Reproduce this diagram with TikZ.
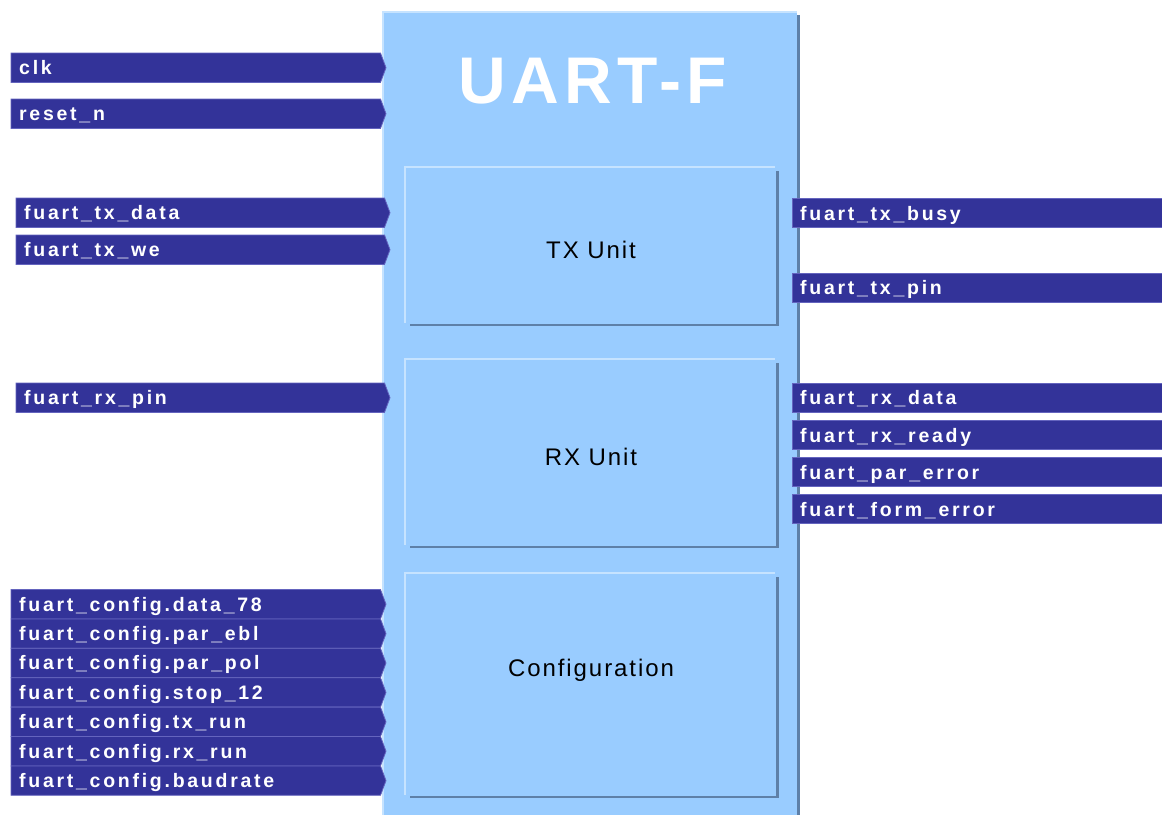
\documentclass[tikz,border=0pt]{standalone}
\usepackage{fontspec}
\usepackage{tikz}
\newfontfamily\sigfont{Liberation Sans}[LetterSpace=14]
\newfontfamily\titlefont{Liberation Sans}[LetterSpace=8]
\newfontfamily\unitfont{Liberation Sans}[LetterSpace=8]
\definecolor{sigblue}{HTML}{333399}
\definecolor{sigedge}{HTML}{6464BE}
\definecolor{boxblue}{HTML}{99CCFF}
\definecolor{boxlight}{HTML}{C6E3FF}
\definecolor{boxdark}{HTML}{5E80A8}
\tikzset{
  sigbar/.style={fill=sigblue, draw=sigedge, line width=0.8pt},
  sigtext/.style={anchor=base west, inner sep=0pt, text=white,
    font=\sigfont\bfseries\fontsize{19.5}{22}\selectfont},
  unittext/.style={font=\unitfont\fontsize{24}{28}\selectfont},
}
% input signal: name, left x, top y, tip x, label
\newcommand{\InSig}[5]{%
  \draw[sigbar] (#2,#3) -- (#4-5.5,#3) -- (#4,#3+14.7) -- (#4-5.5,#3+29.4) -- (#2,#3+29.4) -- cycle;
  \node[sigtext] (#1) at (#2+8,#3+21.5) {#5};}
% output signal: name, top y, label
\newcommand{\OutSig}[3]{%
  \draw[sigbar] (792,#2) rectangle (1170,#2+29);
  \node[sigtext] (#1) at (800,#2+21.5) {#3};}
% inner unit: name, top y, bottom y, label y, label
\newcommand{\Unit}[5]{%
  \draw[boxlight, line width=2pt] (405,#3-2) -- (405,#2) -- (775,#2);
  \draw[boxdark, line width=2.5pt] (777.5,#2+4) -- (777.5,#3) -- (410,#3);
  \node[unittext] (#1) at (591,#4) {#5};}

\begin{document}
\begin{tikzpicture}[x=1pt, y=-1pt]
\useasboundingbox (0,0) rectangle (1162,814);

% UART-F block
\fill[boxblue] (382,11) rectangle (797,816);
\draw[boxdark, line width=3pt] (798.5,15) -- (798.5,816);
\draw[boxlight, line width=2pt] (383,816) -- (383,12) -- (797,12);
\node[text=white, font=\titlefont\bfseries\fontsize{66}{70}\selectfont] (title) at (593,81) {UART-F};

\Unit{tx}{167}{325}{250}{TX Unit}
\Unit{rx}{359}{547}{457}{RX Unit}
\Unit{cfg}{573}{797}{670}{Configuration}

% inputs
\InSig{clk}{11}{53}{386}{clk}
\InSig{rst}{11}{99}{386}{reset\_n}
\InSig{txdata}{16}{198}{390}{fuart\_tx\_data}
\InSig{txwe}{16}{235}{390}{fuart\_tx\_we}
\InSig{rxpin}{16}{383}{390}{fuart\_rx\_pin}
\InSig{cdata}{11}{589.5}{386}{fuart\_config.data\_78}
\InSig{cparebl}{11}{618.9}{386}{fuart\_config.par\_ebl}
\InSig{cparpol}{11}{648.3}{386}{fuart\_config.par\_pol}
\InSig{cstop}{11}{677.7}{386}{fuart\_config.stop\_12}
\InSig{ctxrun}{11}{707.1}{386}{fuart\_config.tx\_run}
\InSig{crxrun}{11}{736.5}{386}{fuart\_config.rx\_run}
\InSig{cbaud}{11}{765.9}{386}{fuart\_config.baudrate}

% outputs
\OutSig{txbusy}{198.5}{fuart\_tx\_busy}
\OutSig{txpin}{273}{fuart\_tx\_pin}
\OutSig{rxdata}{383}{fuart\_rx\_data}
\OutSig{rxready}{420.5}{fuart\_rx\_ready}
\OutSig{parerr}{457.5}{fuart\_par\_error}
\OutSig{formerr}{494.5}{fuart\_form\_error}

\end{tikzpicture}
\end{document}
